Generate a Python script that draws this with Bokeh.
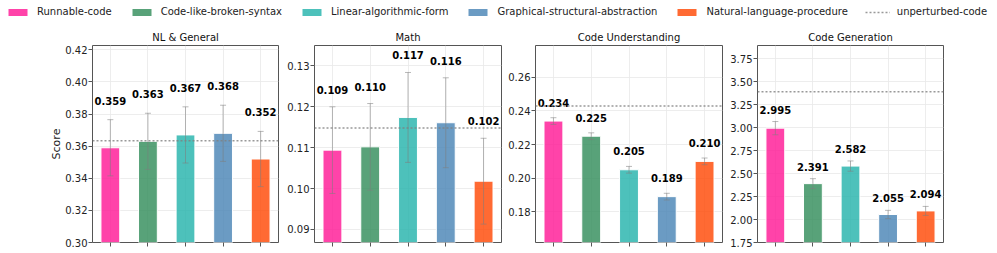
from bokeh.plotting import figure
from bokeh.models import (ColumnDataSource, Whisker, TeeHead, Span, FixedTicker,
                          NumeralTickFormatter, Range1d, Legend, LegendItem)
from bokeh.layouts import row, column
from bokeh.core.properties import value
from bokeh.embed import file_html
from bokeh.resources import INLINE

# ---------------- data ----------------
variants = ["Runnable-code", "Code-like-broken-syntax", "Linear-algorithmic-form",
            "Graphical-structural-abstraction", "Natural-language-procedure"]
colors = ["#FF1493", "#2E8B57", "#20B2AA", "#4682B4", "#FF4500"]
panel_titles = ["NL & General", "Math", "Code Understanding", "Code Generation"]

nl_means = [0.359, 0.363, 0.367, 0.368, 0.352]
nl_errs = [0.0175, 0.0175, 0.0175, 0.0175, 0.0172]
math_means = [0.1094, 0.1102, 0.1174, 0.1161, 0.1018]
math_errs = [0.0106, 0.0106, 0.0110, 0.0110, 0.0105]
cu_means = [0.234, 0.225, 0.205, 0.189, 0.210]
cu_errs = [0.0020, 0.0020, 0.0020, 0.0020, 0.0020]
cg_means = [2.995, 2.391, 2.582, 2.055, 2.094]
cg_errs = [0.072, 0.054, 0.056, 0.045, 0.049]
unperturbed = [0.3634, 0.1148, 0.2430, 3.391]

y_limits = [(0.30, 0.4227), (0.0868, 0.1350), (0.1617, 0.2790), (1.75, 3.895)]
y_ticks = [[0.30, 0.32, 0.34, 0.36, 0.38, 0.40, 0.42],
           [0.09, 0.10, 0.11, 0.12, 0.13],
           [0.18, 0.20, 0.22, 0.24, 0.26],
           [1.75, 2.00, 2.25, 2.50, 2.75, 3.00, 3.25, 3.50, 3.75]]

means_all = [nl_means, math_means, cu_means, cg_means]
errs_all = [nl_errs, math_errs, cu_errs, cg_errs]

# ---------------- styling / layout ----------------
FONT = "DejaVu Sans"
border_left = [92, 34, 32, 33]
frame_w = [186, 187, 187, 186]
label_off = [19, 17, 15, 12]
FRAME_H = 197
TOP = 22
BOTTOM = 8

panels = []
for i in range(4):
    means = means_all[i]
    errs = errs_all[i]
    xs = list(range(len(variants)))
    src = ColumnDataSource(dict(
        x=xs, top=means, color=colors,
        upper=[m + e for m, e in zip(means, errs)],
        lower=[m - e for m, e in zip(means, errs)],
        label=[f"{m:.3f}" for m in means],
    ))
    p = figure(frame_width=frame_w[i], frame_height=FRAME_H,
               x_range=Range1d(-0.475, 4.475),
               y_range=Range1d(*y_limits[i]),
               output_backend="svg", toolbar_location=None,
               min_border_left=border_left[i], min_border_right=2,
               min_border_top=TOP, min_border_bottom=BOTTOM,
               background_fill_color="white", border_fill_color="white")
    p.title.text = panel_titles[i]
    p.title.text_font = FONT
    p.title.text_font_size = "10px"
    p.title.text_font_style = "normal"
    p.title.text_color = "#111111"
    p.title.align = "center"
    p.title.standoff = 5
    p.title.offset = 0

    p.outline_line_color = "#555555"
    p.outline_line_width = 1

    # grid
    p.xgrid.ticker = FixedTicker(ticks=xs)
    p.ygrid.ticker = FixedTicker(ticks=y_ticks[i])
    p.grid.grid_line_color = "#e8e8e8"
    p.grid.grid_line_width = 0.8

    # axes
    p.xaxis.ticker = FixedTicker(ticks=xs)
    p.xaxis.major_label_text_font_size = "0px"
    p.xaxis.major_label_text_color = None
    p.xaxis.major_label_standoff = 0
    p.xaxis.major_tick_out = 4
    p.xaxis.major_tick_in = 0
    p.xaxis.minor_tick_line_color = None
    p.xaxis.axis_line_color = None
    p.xaxis.major_tick_line_color = "#555555"

    p.yaxis.ticker = FixedTicker(ticks=y_ticks[i])
    p.yaxis.formatter = NumeralTickFormatter(format="0.00")
    p.yaxis.major_label_text_font = FONT
    p.yaxis.major_label_text_font_size = "10px"
    p.yaxis.major_label_text_color = "#222222"
    p.yaxis.major_label_standoff = 1
    p.yaxis.major_tick_out = 4
    p.yaxis.major_tick_in = 0
    p.yaxis.minor_tick_line_color = None
    p.yaxis.axis_line_color = None
    p.yaxis.major_tick_line_color = "#555555"
    if i == 0:
        p.yaxis.axis_label = "Score"
        p.yaxis.axis_label_text_font = FONT
        p.yaxis.axis_label_text_font_size = "11px"
        p.yaxis.axis_label_text_font_style = "normal"
        p.yaxis.axis_label_text_color = "#222222"
        p.yaxis.axis_label_standoff = -1

    p.vbar(x="x", top="top", width=0.5, source=src, fill_color="color",
           fill_alpha=0.8, line_color="white", line_width=1)

    p.add_layout(Span(location=unperturbed[i], dimension="width",
                      line_color="gray", line_alpha=0.8, line_width=1.5,
                      line_dash="2 2", level="overlay"))

    wh = Whisker(source=src, base="x", upper="upper", lower="lower",
                 dimension="height", line_color="gray", line_alpha=0.55,
                 line_width=1, level="overlay",
                 upper_head=TeeHead(size=6, line_color="gray", line_alpha=0.55, line_width=1),
                 lower_head=TeeHead(size=6, line_color="gray", line_alpha=0.55, line_width=1))
    p.add_layout(wh)

    p.text(x="x", y="upper", text="label", source=src,
           text_align="center", text_baseline="middle", y_offset=-label_off[i],
           text_font=value(FONT), text_font_style="bold", text_font_size="10px",
           text_color="black")
    panels.append(p)

# ---------------- legend strip ----------------
lg = figure(width=995, height=23, x_range=Range1d(0, 1), y_range=Range1d(0, 1),
            output_backend="svg", toolbar_location=None, min_border=0,
            outline_line_color=None)
lg.axis.visible = False
lg.grid.visible = False
items = []
for v, c in zip(variants, colors):
    r = lg.vbar(x=[5], top=[1], width=0.5, fill_color=c, fill_alpha=0.8,
                line_color="white", line_width=1)
    items.append(LegendItem(label=v, renderers=[r]))
rl = lg.line(x=[5, 6], y=[0.5, 0.5], line_color="gray", line_alpha=0.8,
             line_width=1.5, line_dash="2 2")
items.append(LegendItem(label="unperturbed-code", renderers=[rl]))
leg = Legend(items=items, orientation="horizontal", location=(5, 6),
             glyph_width=25, glyph_height=10, label_height=10,
             label_standoff=7, spacing=17, padding=0, margin=0,
             border_line_color=None, background_fill_alpha=0,
             label_text_font=FONT, label_text_font_size="10px",
             label_text_color="#222222")
lg.add_layout(leg)

layout = column(lg, row(*panels))
open("out.html", "w").write(file_html(layout, INLINE))
